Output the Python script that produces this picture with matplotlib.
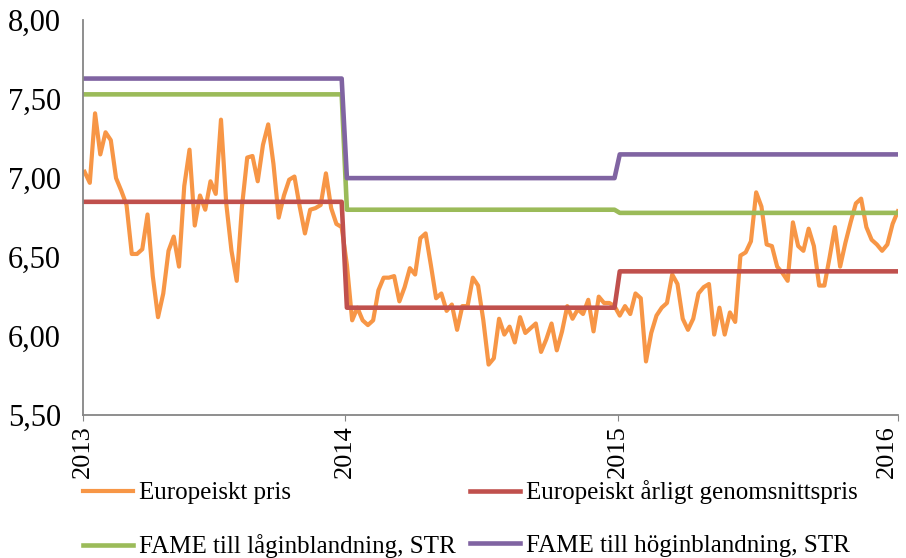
import numpy as np
import matplotlib
matplotlib.use("Agg")
import matplotlib.pyplot as plt
from matplotlib.ticker import FuncFormatter

# weekly European price, per year
pris_2013 = [7.04, 6.97, 7.41, 7.15, 7.29, 7.24, 7.00, 6.92, 6.83, 6.52,
             6.52, 6.55, 6.77, 6.38, 6.12, 6.27, 6.54, 6.63, 6.44, 6.95,
             7.18, 6.70, 6.89, 6.80, 6.98, 6.90, 7.37, 6.84, 6.54, 6.35,
             6.82, 7.13, 7.14, 6.98, 7.21, 7.34, 7.09, 6.75, 6.89, 6.99,
             7.01, 6.82, 6.65, 6.80, 6.81, 6.83, 7.03, 6.81, 6.71, 6.69]
pris_2014 = [6.45, 6.10, 6.18, 6.10, 6.07, 6.10, 6.29, 6.37, 6.37, 6.38,
             6.22, 6.31, 6.43, 6.39, 6.62, 6.65, 6.45, 6.24, 6.27, 6.16,
             6.20, 6.04, 6.19, 6.19, 6.37, 6.32, 6.10, 5.82, 5.86, 6.11,
             6.01, 6.06, 5.96, 6.12, 6.02, 6.05, 6.08, 5.90, 5.98, 6.08,
             5.91, 6.03, 6.19, 6.11, 6.17, 6.14, 6.23, 6.03, 6.25, 6.21,
             6.21, 6.19]
pris_2015 = [6.13, 6.19, 6.14, 6.27, 6.24, 5.84, 6.02, 6.13, 6.18, 6.21,
             6.39, 6.33, 6.11, 6.04, 6.11, 6.27, 6.31, 6.33, 6.01, 6.18,
             6.01, 6.15, 6.09, 6.51, 6.53, 6.60, 6.91, 6.82, 6.58, 6.57,
             6.44, 6.40, 6.35, 6.72, 6.57, 6.54, 6.68, 6.57, 6.32, 6.32,
             6.50, 6.69, 6.44, 6.59, 6.72, 6.84, 6.87, 6.69, 6.61, 6.58,
             6.54, 6.58, 6.71, 6.79]

# yearly levels
years = ["2013", "2014", "2015", "2016"]
arligt = [6.85, 6.18, 6.41]
fame_lag = [7.53, 6.80, 6.78]
fame_hog = [7.63, 7.00, 7.15]

labels = ["Europeiskt pris", "Europeiskt årligt genomsnittspris",
          "FAME till låginblandning, STR", "FAME till höginblandning, STR"]
colors = ["#F79646", "#C0504D", "#9BBB59", "#8064A2"]

weeks = [len(pris_2013), len(pris_2014), len(pris_2015)]
pris = np.array(pris_2013 + pris_2014 + pris_2015)
x = np.arange(len(pris))

plt.rcParams['font.family'] = ['Liberation Serif', 'DejaVu Serif']

fig = plt.figure(figsize=(9.06, 5.58), dpi=100)
ax = fig.add_axes([0.0916, 0.256, 0.8994, 0.708])

l1, = ax.plot(x, pris, color=colors[0], lw=3.0, solid_joinstyle='round')
l2, = ax.plot(x, np.repeat(arligt, weeks), color=colors[1], lw=3.3)
l3, = ax.plot(x, np.repeat(fame_lag, weeks), color=colors[2], lw=3.3)
l4, = ax.plot(x, np.repeat(fame_hog, weeks), color=colors[3], lw=3.3)

ax.set_ylim(5.5, 8.0)
ax.set_xlim(-0.3, len(pris) - 1)
ax.set_yticks(np.arange(5.5, 8.01, 0.5))
ax.yaxis.set_major_formatter(FuncFormatter(lambda v, p: f"{v:.2f}".replace(".", ",")))

bounds = np.cumsum([0] + weeks).astype(float)
tick_pos = [-0.3, bounds[1] - 0.4, bounds[2] - 0.4, len(pris) - 1]
ax.set_xticks(tick_pos)
ax.set_xticklabels(years, rotation=90, fontsize=19)
# keep the last year label inside the figure
ax.get_xticklabels()[-1].set_horizontalalignment('right')

ax.tick_params(axis='y', length=0, labelsize=22, pad=16)
ax.tick_params(axis='x', length=4, color="#868686", pad=3)

for s in ["top", "right"]:
    ax.spines[s].set_visible(False)
for s in ["left", "bottom"]:
    ax.spines[s].set_color("#868686")
    ax.spines[s].set_linewidth(1.3)

fig.legend([l1, l3, l2, l4], [labels[0], labels[2], labels[1], labels[3]],
           ncol=2, loc="upper left", bbox_to_anchor=(0.0916, 0.139),
           frameon=False, fontsize=18, handlelength=2.0, handletextpad=0.25,
           columnspacing=0.55, labelspacing=1.2, borderaxespad=0, borderpad=0)

fig.savefig("out.png", dpi=100)
